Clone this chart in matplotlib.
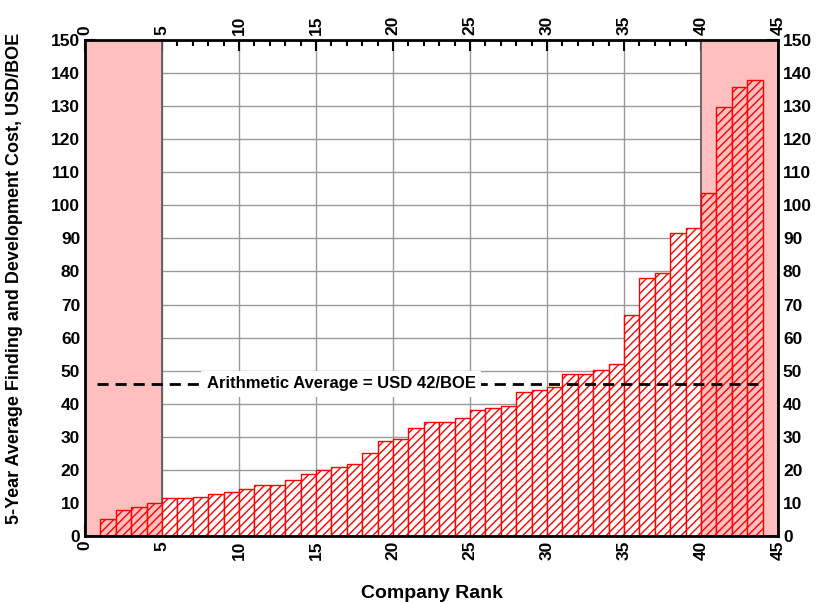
import matplotlib.pyplot as plt
from matplotlib.ticker import MultipleLocator

plt.rcParams['font.family'] = ['Liberation Sans', 'DejaVu Sans']
plt.rcParams['font.weight'] = 'bold'
plt.rcParams['hatch.color'] = 'red'
plt.rcParams['hatch.linewidth'] = 1.0

# company rank (left edge of bar) and 5-yr F&D cost, USD/BOE
rank = list(range(1, 44))
cost = [5.1, 7.9, 8.7, 9.9, 11.5, 11.5, 11.7, 12.7, 13.3, 14.3,
        15.3, 15.5, 16.9, 18.7, 20.0, 21.0, 21.8, 25.2, 28.8, 29.3,
        32.8, 34.6, 34.6, 35.8, 38.1, 38.8, 39.4, 43.6, 44.1, 45.1,
        48.9, 48.9, 50.2, 52.0, 66.8, 78.1, 79.4, 91.7, 93.0, 103.6,
        129.6, 135.7, 137.9]
avg_level = 46
avg_text = 'Arithmetic Average = USD 42/BOE'
pink = '#ffbfbf'

fig = plt.figure(figsize=(8.22, 6.03), dpi=100)
ax = fig.add_axes([0.1034, 0.1111, 0.8431, 0.8226])

ax.grid(True, color='#999999', linewidth=1.0, zorder=0)
ax.set_axisbelow(True)

# shaded tails
for a, b in [(0, 5), (40, 45)]:
    ax.axvspan(a, b, facecolor=pink, edgecolor='#555555', linewidth=1.2, zorder=1)

fc = [pink if (r < 5 or r >= 40) else 'white' for r in rank]
ax.bar(rank, cost, width=1.0, align='edge', color=fc, edgecolor='red',
       linewidth=1.0, hatch='////', zorder=2)

ax.plot([0.8, 43.7], [avg_level, avg_level], color='black', linestyle=(0, (4, 2.5)),
        linewidth=2, zorder=3)
ax.text(16.65, avg_level, avg_text, ha='center', va='center', fontsize=12,
        fontweight='bold', zorder=4,
        bbox=dict(facecolor='white', edgecolor='none', pad=4))

ax.set_xlim(0, 45)
ax.set_ylim(0, 150)
ax.xaxis.set_major_locator(MultipleLocator(5))
ax.xaxis.set_minor_locator(MultipleLocator(1))
ax.yaxis.set_major_locator(MultipleLocator(10))
ax.yaxis.set_minor_locator(MultipleLocator(2))
ax.tick_params(which='both', direction='in', top=True, right=True,
               labeltop=True, labelright=True, width=1.5)
ax.tick_params(which='major', length=8, labelsize=12.5)
ax.tick_params(which='minor', length=4)
ax.tick_params(axis='x', which='major', labelrotation=90)
for s in ax.spines.values():
    s.set_linewidth(2)
    s.set_zorder(5)

ax.set_xlabel('Company Rank', fontsize=14, fontweight='bold', labelpad=18)
ax.set_ylabel('5-Year Average Finding and Development Cost, USD/BOE',
              fontsize=13, fontweight='bold', labelpad=6)
ax.yaxis.set_label_coords(-0.09, 0.52)

fig.savefig('out.png', dpi=100)
